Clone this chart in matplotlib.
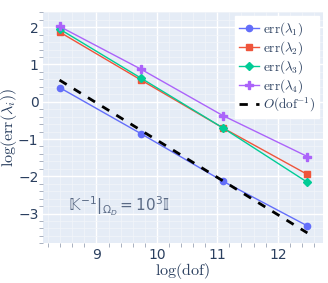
import numpy as np
import matplotlib.pyplot as plt
from matplotlib.ticker import MultipleLocator

plt.rcParams['mathtext.fontset'] = 'cm'
plt.rcParams['font.family'] = ['DejaVu Sans']

# datos
log_dof = [8.39, 9.74, 11.09, 12.49]
err1 = [0.38, -0.86, -2.13, -3.33]
err2 = [1.87, 0.58, -0.70, -1.95]
err3 = [1.95, 0.63, -0.70, -2.16]
err4 = [2.02, 0.87, -0.37, -1.47]
ref_c = 8.97  # O(dof^-1): y = c - x

nombres = [r'$\mathrm{err}(\lambda_1)$', r'$\mathrm{err}(\lambda_2)$',
           r'$\mathrm{err}(\lambda_3)$', r'$\mathrm{err}(\lambda_4)$']
colores = ['#636efa', '#EF553B', '#00cc96', '#ab63fa']
marcas = ['o', 's', 'D', 'P']
tam = [4.5, 4.5, 4.5, 6]

txt = '#2a3f5f'
fig = plt.figure(figsize=(3.28, 2.83), dpi=100)
ax = fig.add_axes([0.13, 0.14, 0.855, 0.818])
ax.set_facecolor('#E5ECF6')

for serie, n, c, m, s in zip([err1, err2, err3, err4], nombres, colores, marcas, tam):
    ax.plot(log_dof, serie, color=c, marker=m, markersize=s, lw=1, label=n)

x = np.array([log_dof[0], log_dof[-1]])
ax.plot(x, ref_c - x, 'k--', lw=2, dashes=(3, 3), label=r'$O(\mathrm{dof}^{-1})$')

ax.set_xlim(8.11, 12.75)
ax.set_ylim(-3.8, 2.41)
ax.xaxis.set_major_locator(MultipleLocator(1))
ax.yaxis.set_major_locator(MultipleLocator(1))
ax.xaxis.set_minor_locator(MultipleLocator(0.2))
ax.yaxis.set_minor_locator(MultipleLocator(0.2))
ax.grid(which='major', color='white', lw=1)
ax.grid(which='minor', color='#F2F5FA', lw=0.5)
ax.set_axisbelow(True)
for sp in ax.spines.values():
    sp.set_visible(False)
ax.tick_params(which='both', colors='#9aa4b5', labelcolor=txt, labelsize=10, length=3, width=0.6)
ax.tick_params(which='major', length=0, pad=3)
ax.set_yticks([-3, -2, -1, 0, 1, 2])
ax.set_yticklabels(['\u22123', '\u22122', '\u22121', '0', '1', '2'])

ax.set_xlabel(r'$\log(\mathrm{dof})$', fontsize=11.5, color=txt)
ax.set_ylabel(r'$\log(\mathrm{err}(\lambda_i))$', fontsize=11.5, color=txt)
ax.xaxis.set_label_coords(0.5, -0.075)
ax.yaxis.set_label_coords(-0.085, 0.5)

ax.text(0.09, 0.14, '$\U0001D542^{-1}|_{\\Omega_D} = 10^3\U0001D540$', transform=ax.transAxes,
        fontsize=11, color='#5a6a85', math_fontfamily='dejavusans')

leg = ax.legend(loc='upper right', fontsize=9.5, frameon=True, fancybox=False,
                borderpad=0.3, labelspacing=0.1, handlelength=1.5, handletextpad=0.3,
                borderaxespad=0.3, framealpha=1)
leg.get_frame().set_edgecolor('white')
for t in leg.get_texts():
    t.set_color(txt)

plt.savefig('out.png')
